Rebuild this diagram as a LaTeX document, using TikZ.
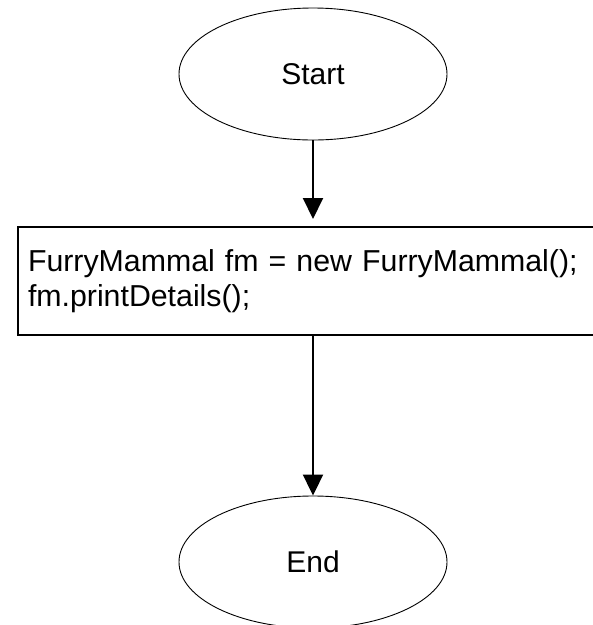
\documentclass[tikz,border=0pt]{standalone}
\usepackage{fontspec}
\setmainfont{Liberation Sans}
\usetikzlibrary{shapes.geometric,arrows.meta}
\begin{document}
\begin{tikzpicture}[x=1pt,y=-1pt,
  term/.style={ellipse,draw,line width=0.9pt,minimum width=268pt,minimum height=132pt,inner sep=0pt,
    font=\fontsize{30}{35}\selectfont},
  procbox/.style={rectangle,draw,line width=2pt,anchor=north west,text width=565pt,align=left,
    inner xsep=10pt,inner ysep=0pt,minimum height=108pt,font=\fontsize{30.3}{35}\selectfont},
  flow/.style={line width=2pt,-{Triangle[width=20pt,length=21pt]}}]
\useasboundingbox (0,0) rectangle (593,625);
\clip (0,0) rectangle (593,625);
\fill[white] (0,0) rectangle (593,625);
\node[term] (start) at (313,74) {Start};
\node[procbox] (proc) at (17,226) {FurryMammal fm = new FurryMammal();\\fm.printDetails();};
\node[term] (end) at (313,562) {End};
\draw[flow,shorten >=7pt] (start.south) -- (start.south |- proc.north);
\draw[flow] (start.south |- proc.south) -- (end.north);
\end{tikzpicture}
\end{document}
